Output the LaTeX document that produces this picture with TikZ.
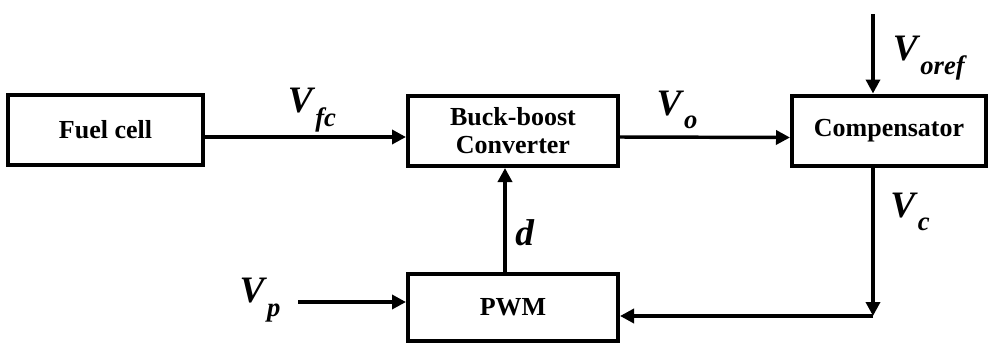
\documentclass[tikz,border=0pt]{standalone}
\usepackage{fontspec}
\setmainfont{Liberation Serif}
\usetikzlibrary{arrows.meta}

% signal name: bold italic letter with a lowered subscript
\newcommand{\sig}[2]{\textbf{\textit{#1}}\raisebox{-0.36em}{\fontsize{20}{21}\selectfont\textbf{\textit{#2}}}}

\tikzset{
    blk/.style={draw, line width=3pt, minimum height=52.5pt, inner sep=0pt,
                font=\fontsize{19.5}{21}\selectfont\bfseries, align=center},
    lbl/.style={inner sep=0pt, font=\fontsize{28}{30}\selectfont},
    wire/.style={line width=2.6pt, -{Triangle[length=10.5pt, width=10.5pt]}}
}

\begin{document}
\begin{tikzpicture}[x=0.75pt, y=-0.75pt]
    \useasboundingbox (0,0) rectangle (989,350);

    % blocks
    \node[blk, minimum width=146pt] (fc) at (105.5,130) {Fuel cell};
    \node[blk, minimum width=157.5pt] (bbc) at (513,131) {Buck-boost\\Converter};
    \node[blk, minimum width=145.5pt] (comp) at (889,130.5) {Compensator};
    \node[blk, minimum width=157.5pt, minimum height=50pt] (pwm) at (513,307.5) {PWM};

    % free ends
    \coordinate (vref) at (873,14);
    \coordinate (vpin) at (298,302);
    \coordinate (corner) at (873,316);

    % connections
    \draw[wire] ([yshift=-5.25pt]fc.east) -- ([yshift=-4.5pt]bbc.west);
    \draw[wire] ([yshift=-4.5pt]bbc.east) -- ([yshift=-5.25pt]comp.west);
    \draw[wire] (vref) -- (vref |- comp.north);
    \draw[wire] (corner |- comp.south) -- (corner);
    \draw[wire] (corner) -- (corner -| pwm.east);
    \draw[wire] (vpin) -- (vpin -| pwm.west);
    \draw[wire] ([xshift=-6pt]pwm.north) -- ([xshift=-6pt]bbc.south);

    % signal labels
    \node[lbl] (vfc) at (312,110) {\sig{V}{fc}};
    \node[lbl] (vo) at (677,110) {\sig{V}{o}};
    \node[lbl] (voref) at (930,58) {\sig{V}{oref}};
    \node[lbl] (vc) at (910,212) {\sig{V}{c}};
    \node[lbl] (dl) at (525,233) {\textbf{\textit{d}}};
    \node[lbl] (vp) at (260,300) {\sig{V}{p}};
\end{tikzpicture}
\end{document}
